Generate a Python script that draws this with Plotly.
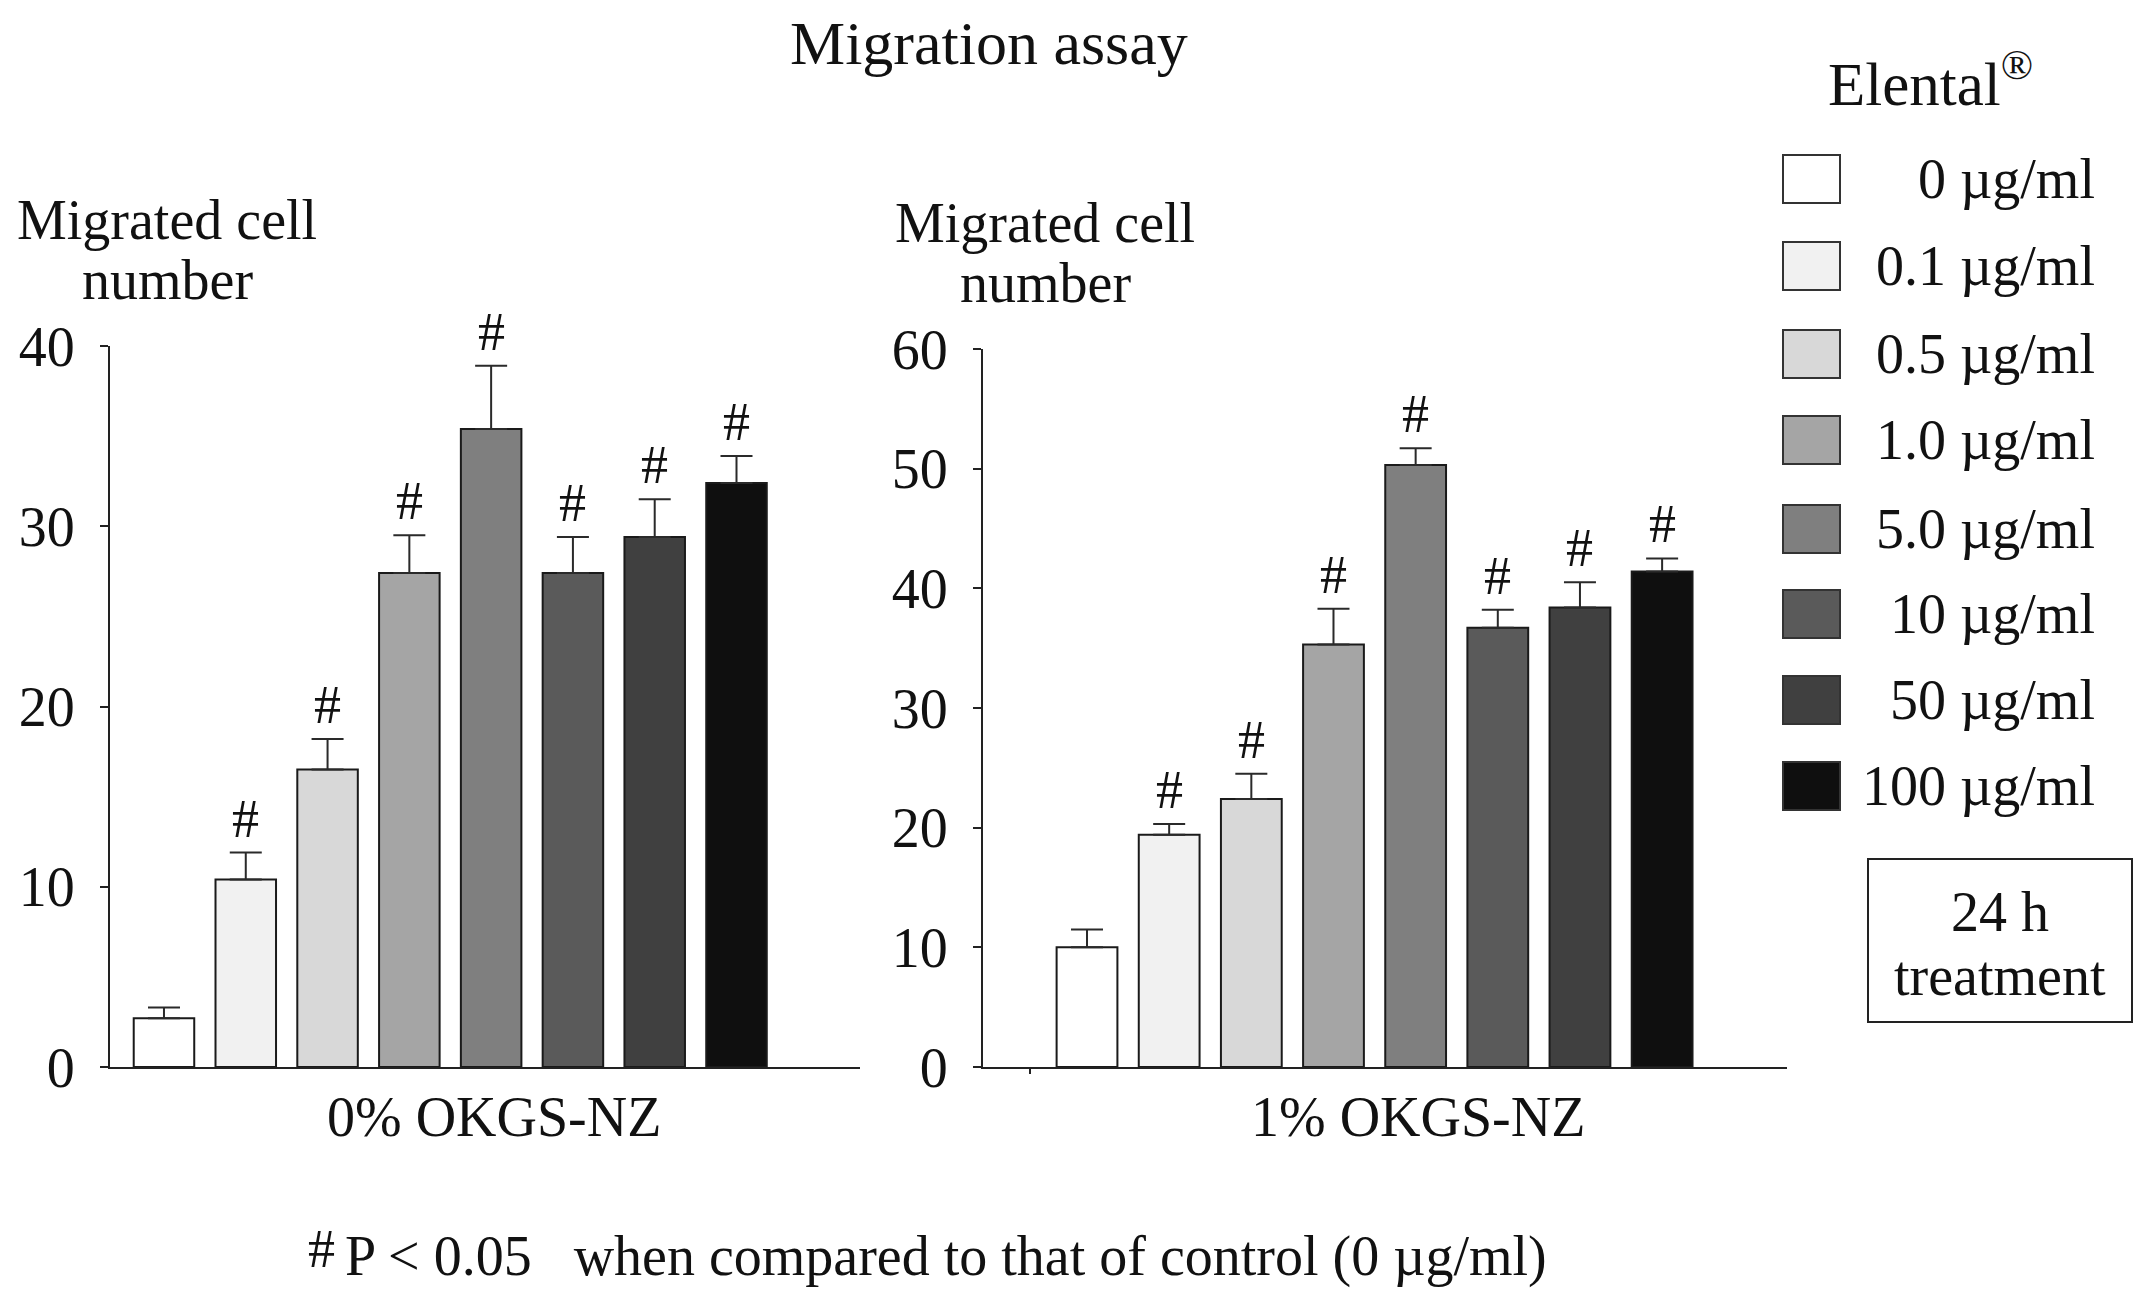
import plotly.graph_objects as go

# ---------------- data ----------------
doses = ["0 µg/ml", "0.1 µg/ml", "0.5 µg/ml", "1.0 µg/ml",
         "5.0 µg/ml", "10 µg/ml", "50 µg/ml", "100 µg/ml"]
colors = ["#ffffff", "#f1f1f1", "#d8d8d8", "#a5a5a5",
          "#7f7f7f", "#5a5a5a", "#404040", "#0f0f0f"]

vals_0pct = [2.7, 10.4, 16.5, 27.4, 35.4, 27.4, 29.4, 32.4]
err_0pct = [0.6, 1.5, 1.7, 2.1, 3.5, 2.0, 2.1, 1.5]
sig_0pct = [False, True, True, True, True, True, True, True]

vals_1pct = [10.0, 19.4, 22.4, 35.3, 50.3, 36.7, 38.4, 41.4]
err_1pct = [1.5, 0.9, 2.1, 3.0, 1.4, 1.5, 2.1, 1.1]
sig_1pct = [False, True, True, True, True, True, True, True]

left_yticks = [0, 10, 20, 30, 40]
right_yticks = [0, 10, 20, 30, 40, 50, 60]

FONT = "Liberation Serif, Times New Roman, serif"
W, H = 2150, 1298
OFF = 8  # page body margin offset


def px(x):
    return (x - OFF) / W


def py(y):
    return 1 - (y - OFF) / H


fig = go.Figure()
xs = list(range(len(doses)))

for vals, errs, xa, ya in [(vals_0pct, err_0pct, "x", "y"),
                           (vals_1pct, err_1pct, "x2", "y2")]:
    fig.add_trace(go.Bar(
        x=xs, y=vals, xaxis=xa, yaxis=ya,
        marker=dict(color=colors, line=dict(color="#1a1a1a", width=2)),
        error_y=dict(type="data", symmetric=False, array=errs,
                     arrayminus=[0] * len(errs),
                     color="#2a2a2a", thickness=2, width=16),
        showlegend=False, hoverinfo="skip",
    ))

annotations = []
for vals, errs, sig, xr, yr in [(vals_0pct, err_0pct, sig_0pct, "x", "y"),
                                (vals_1pct, err_1pct, sig_1pct, "x2", "y2")]:
    for i, (v, e, s) in enumerate(zip(vals, errs, sig)):
        if s:
            annotations.append(dict(
                x=i, y=v + e, xref=xr, yref=yr, text="#", showarrow=False,
                yanchor="middle", yshift=34,
                font=dict(family=FONT, size=54, color="#111")))


def txt(x, y, t, size=56, xanchor="center", yanchor="middle", height=None):
    a = dict(x=px(x), y=py(y), xref="paper", yref="paper",
             text=t, showarrow=False, xanchor=xanchor, yanchor=yanchor,
             font=dict(family=FONT, size=size, color="#111"))
    if height:
        a["height"] = height
    annotations.append(a)


txt(989, 43, "Migration assay", size=62)
txt(167, 220, "Migrated cell")
txt(167, 280, "number", height=44)
txt(1045, 223, "Migrated cell")
txt(1045, 283, "number", height=44)
txt(494, 1117, "0% OKGS-NZ")
txt(1418, 1117, "1% OKGS-NZ")
txt(306, 1249, "#", size=54, xanchor="left", height=46)
txt(343, 1256, "P < 0.05\u00a0\u00a0\u00a0when compared to that of control (0 µg/ml)",
    size=56, xanchor="left")

# custom legend
txt(1930, 80, "Elental<sup>®</sup>", size=61)
shapes = []
row_centers = [179, 266, 354, 440, 529, 614, 700, 786]
for lab, col, yc in zip(doses, colors, row_centers):
    shapes.append(dict(type="rect", xref="paper", yref="paper",
                       x0=px(1783), x1=px(1840), y0=py(yc + 24), y1=py(yc - 24),
                       fillcolor=col, line=dict(color="#333", width=2)))
    txt(2097, yc, lab, xanchor="right")

shapes.append(dict(type="rect", xref="paper", yref="paper",
                   x0=px(1868), x1=px(2132), y0=py(1022), y1=py(859),
                   fillcolor="rgba(0,0,0,0)", line=dict(color="#222", width=2)))
txt(2000, 912, "24 h")
txt(2000, 976, "treatment")

axis_common = dict(showgrid=False, zeroline=False, showline=True,
                   linecolor="#222", linewidth=2, automargin=False)

fig.update_layout(
    width=W, height=H, autosize=False,
    margin=dict(l=0, r=0, t=0, b=0, pad=0, autoexpand=False),
    paper_bgcolor="white", plot_bgcolor="white",
    bargap=0.26, showlegend=False,
    font=dict(family=FONT, size=56, color="#111"),
    xaxis=dict(domain=[px(110), px(860)], range=[-0.66, 8.51],
               showticklabels=False, ticks="", anchor="y", **axis_common),
    yaxis=dict(domain=[py(1067), py(346)], range=[0, 40],
               tickvals=left_yticks, ticks="outside", ticklen=8, tickwidth=2,
               tickcolor="#222", ticklabelstandoff=14, anchor="x",
               tickfont=dict(family=FONT, size=56, color="#111"),
               **axis_common),
    xaxis2=dict(domain=[px(983), px(1787)], range=[-1.266, 8.52],
                showticklabels=False, tickvals=[-0.7], ticks="outside",
                ticklen=5, tickwidth=2, tickcolor="#222",
                anchor="y2", **axis_common),
    yaxis2=dict(domain=[py(1067), py(349)], range=[0, 60],
                tickvals=right_yticks, ticks="outside", ticklen=8, tickwidth=2,
                tickcolor="#222", ticklabelstandoff=14, anchor="x2",
                tickfont=dict(family=FONT, size=56, color="#111"),
                **axis_common),
    annotations=annotations,
    shapes=shapes,
)

fig.write_html("out.html", config={"responsive": False})
